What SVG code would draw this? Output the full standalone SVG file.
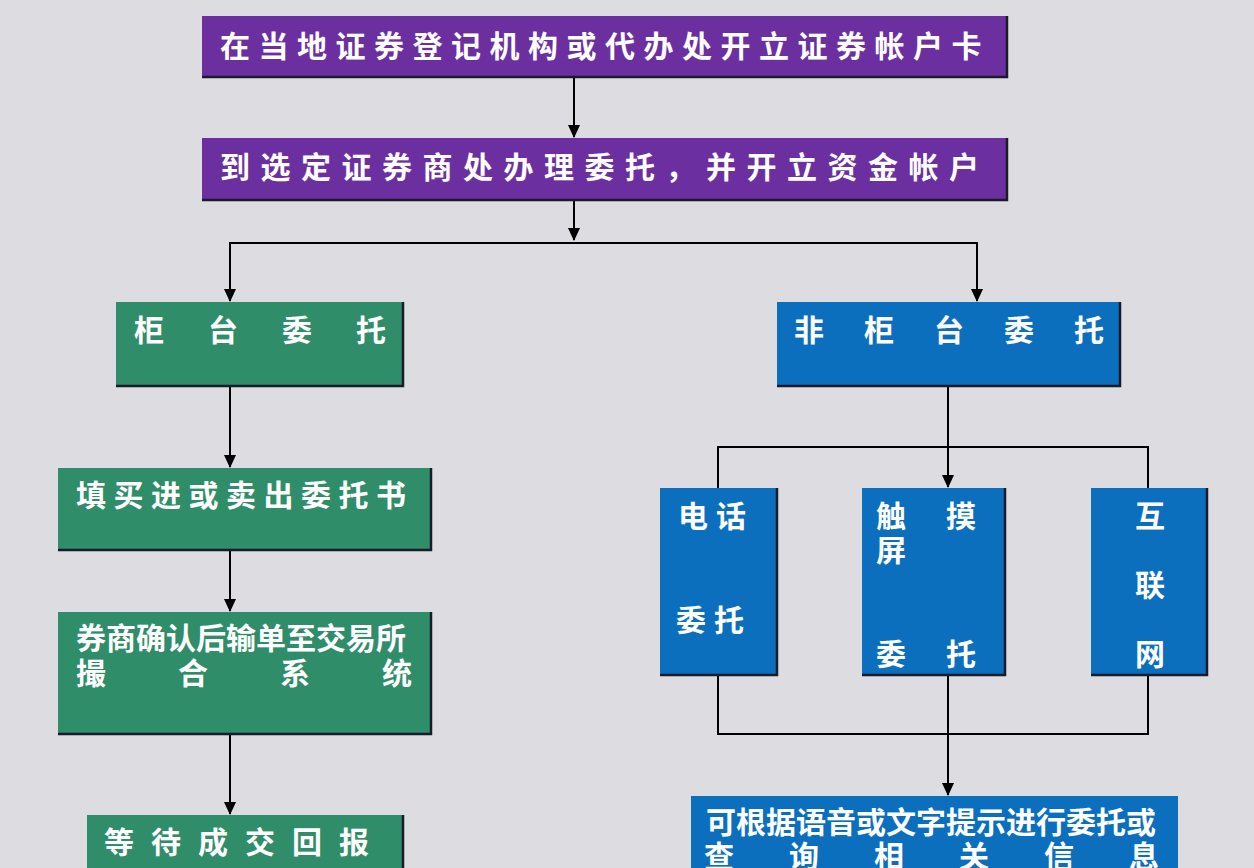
<svg xmlns="http://www.w3.org/2000/svg" width="1254" height="868" viewBox="0 0 1254 868">
<defs>
<marker id="ah" markerWidth="14" markerHeight="14" refX="12" refY="7" orient="auto" markerUnits="userSpaceOnUse"><path d="M0,1 L13,7 L0,13 Z" fill="#000"/></marker>
<style>
.t{font-family:"Noto Sans CJK SC","Noto Sans",sans-serif;font-weight:bold;font-size:30px;fill:#fff}
.p{fill:#6b2fa0}.g{fill:#2f8d6a}.b{fill:#0b6fbe}
.sh{fill:none;stroke:#1a1a2a;stroke-width:2.5}
.c{fill:none;stroke:#000;stroke-width:2}
</style>
</defs>
<rect width="1254" height="868" fill="#dddce1"/>
<g id="connectors">
<path class="c" d="M574,77 V137" marker-end="url(#ah)"/>
<path class="c" d="M574,200 V240" marker-end="url(#ah)"/>
<path class="c" d="M230,301 V243 H977 V301" marker-end="url(#ah)"/>
<path class="c" d="M230,243 V301" marker-end="url(#ah)"/>
<path class="c" d="M230,386 V467" marker-end="url(#ah)"/>
<path class="c" d="M230,550 V611" marker-end="url(#ah)"/>
<path class="c" d="M230,734 V814" marker-end="url(#ah)"/>
<path class="c" d="M948,386 V487" marker-end="url(#ah)"/>
<path class="c" d="M718,488 V447 H1148 V488"/>
<path class="c" d="M718,675 V734 H1148 V675"/>
<path class="c" d="M948,675 V795" marker-end="url(#ah)"/>
</g>
<g id="n1"><rect class="p" x="202" y="16" width="805" height="61"/><path class="sh" d="M202,77 H1007 V16"/>
<text class="t" x="220" y="57" letter-spacing="8.5">在当地证券登记机构或代办处开立证券帐户卡</text></g>
<g id="n2"><rect class="p" x="202" y="138" width="805" height="62"/><path class="sh" d="M202,200 H1007 V138"/>
<text class="t" x="220" y="178" letter-spacing="10.5">到选定证券商处办理委托，并开立资金帐户</text></g>
<g id="n3"><rect class="g" x="116" y="302" width="287" height="84"/><path class="sh" d="M116,386 H403 V302"/>
<text class="t" x="134" y="341" letter-spacing="44">柜台委托</text></g>
<g id="n4"><rect class="g" x="58" y="468" width="373" height="82"/><path class="sh" d="M58,550 H431 V468"/>
<text class="t" x="76" y="506" letter-spacing="7.5">填买进或卖出委托书</text></g>
<g id="n5"><rect class="g" x="58" y="612" width="373" height="122"/><path class="sh" d="M58,734 H431 V612"/>
<text class="t" x="76" y="649">券商确认后输单至交易所</text>
<text class="t" x="76" y="684" letter-spacing="72">撮合系统</text></g>
<g id="n6"><rect class="g" x="87" y="815" width="316" height="60"/><path class="sh" d="M87,875 H403 V815"/>
<text class="t" x="104" y="853" letter-spacing="17">等待成交回报</text></g>
<g id="n7"><rect class="b" x="777" y="302" width="343" height="84"/><path class="sh" d="M777,386 H1120 V302"/>
<text class="t" x="794" y="341" letter-spacing="40">非柜台委托</text></g>
<g id="n8"><rect class="b" x="660" y="488" width="117" height="187"/><path class="sh" d="M660,675 H777 V488"/>
<text class="t" x="678" y="527" letter-spacing="8">电话</text>
<text class="t" x="676" y="631" letter-spacing="8">委托</text></g>
<g id="n9"><rect class="b" x="862" y="488" width="143" height="187"/><path class="sh" d="M862,675 H1005 V488"/>
<text class="t" x="876" y="527" letter-spacing="40">触摸</text>
<text class="t" x="876" y="561">屏</text>
<text class="t" x="876" y="665" letter-spacing="40">委托</text></g>
<g id="n10"><rect class="b" x="1091" y="488" width="116" height="187"/><path class="sh" d="M1091,675 H1207 V488"/>
<text class="t" x="1135" y="527">互</text>
<text class="t" x="1135" y="596">联</text>
<text class="t" x="1135" y="665">网</text></g>
<g id="n11"><rect class="b" x="691" y="796" width="487" height="80"/>
<text class="t" x="706" y="833">可根据语音或文字提示进行委托或</text>
<text class="t" x="704" y="867" letter-spacing="55">查询相关信息</text></g>
</svg>
